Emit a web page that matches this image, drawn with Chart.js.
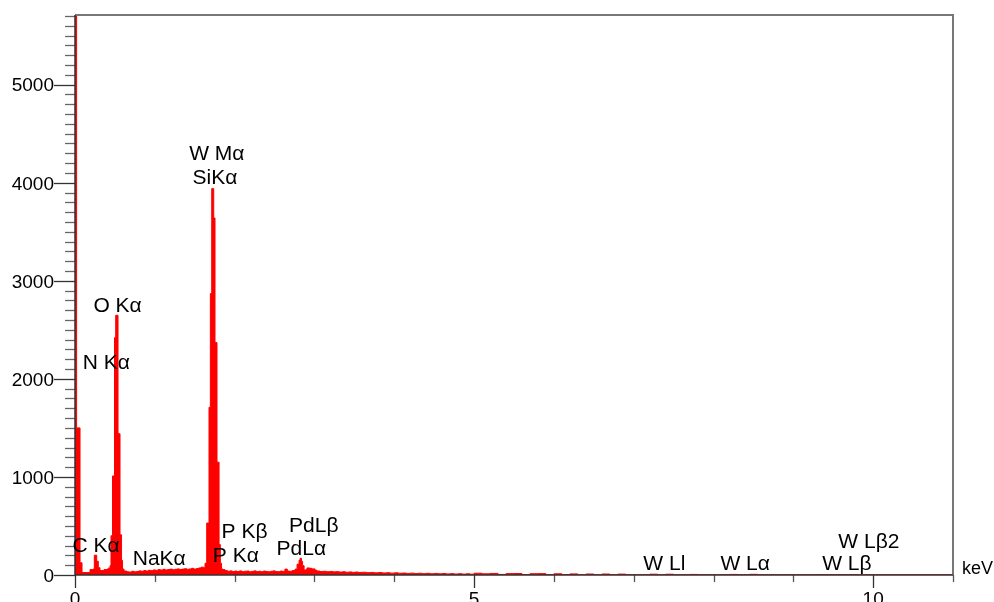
<!DOCTYPE html>
<html>
<head>
<meta charset="utf-8">
<script src="https://cdn.jsdelivr.net/npm/chart.js@4/dist/chart.umd.min.js"></script>
<style>
  body { margin: 0; background: #fff; }
  #wrap { width: 994px; height: 602px; }
</style>
</head>
<body>
<div id="wrap"><canvas id="spectrum" width="994" height="602"></canvas></div>
<script>
// channel start energies (keV) and counts
const energies = [
  0.00, 0.02, 0.063, 0.088, 0.188, 0.226, 0.242, 0.272, 0.292, 0.313,
  0.363, 0.414, 0.439, 0.451, 0.470, 0.495, 0.510, 0.539, 0.564, 0.583,
  0.595, 0.614, 0.65, 0.68, 0.71, 0.74, 0.77, 0.80, 0.83, 0.86,
  0.89, 0.92, 0.95, 0.98, 1.01, 1.04, 1.07, 1.10, 1.13, 1.16,
  1.19, 1.22, 1.25, 1.28, 1.31, 1.34, 1.37, 1.40, 1.43, 1.46,
  1.49, 1.52, 1.55, 1.58, 1.61, 1.629, 1.650, 1.679, 1.696, 1.713,
  1.738, 1.754, 1.779, 1.805, 1.821, 1.836, 1.855, 1.88, 1.91, 1.94,
  1.97, 2.00, 2.03, 2.06, 2.09, 2.12, 2.15, 2.18, 2.21, 2.24,
  2.27, 2.30, 2.33, 2.36, 2.39, 2.42, 2.45, 2.48, 2.51, 2.54,
  2.57, 2.60, 2.63, 2.66, 2.69, 2.72, 2.757, 2.782, 2.807, 2.820,
  2.838, 2.851, 2.870, 2.895, 2.907, 2.94, 2.97, 3.008, 3.033, 3.07,
  3.11, 3.15, 3.19, 3.23, 3.27, 3.31, 3.35, 3.39, 3.43, 3.47,
  3.51, 3.55, 3.60, 3.65, 3.70, 3.75, 3.80, 3.85, 3.90, 3.95,
  4.00, 4.05, 4.10, 4.15, 4.20, 4.25, 4.30, 4.35, 4.40, 4.45,
  4.50, 4.55, 4.60, 4.65, 4.70, 4.75, 4.80, 4.85, 4.90, 4.95,
  5.00, 5.10, 5.20, 5.30, 5.40, 5.50, 5.60, 5.70, 5.80, 5.90,
  6.00, 6.10, 6.20, 6.30, 6.40, 6.50, 6.60, 6.70, 6.80, 6.90,
  7.00, 7.20, 7.30, 7.40, 7.50, 7.70, 7.80, 8.00, 8.20, 8.30,
  8.45, 8.55, 8.80, 9.00, 9.30, 9.60, 9.80, 10.2, 10.6, 11.0
];
const counts = [
  9000, 1500, 125, 25, 55, 60, 202, 140, 75, 45,
  55, 70, 95, 400, 1010, 2420, 2648, 1440, 410, 150,
  60, 40, 32, 30, 38, 32, 36, 42, 38, 45,
  40, 48, 44, 52, 47, 55, 50, 58, 52, 56,
  60, 54, 58, 62, 56, 60, 64, 58, 62, 68,
  60, 66, 72, 80, 74, 120, 530, 1710, 2870, 3940,
  3640, 2370, 1150, 310, 120, 60, 55, 45, 38, 42,
  35, 40, 36, 42, 34, 38, 40, 33, 37, 42,
  35, 38, 34, 40, 36, 33, 38, 42, 36, 34,
  40, 37, 60, 40, 38, 45, 60, 110, 150, 170,
  140, 95, 50, 58, 72, 68, 62, 48, 40, 36,
  38, 34, 36, 32, 34, 30, 33, 28, 31, 27,
  30, 26, 28, 24, 26, 22, 25, 21, 23, 19,
  22, 18, 20, 16, 19, 15, 18, 14, 17, 13,
  16, 12, 15, 11, 14, 10, 13, 9, 12, 8,
  18, 12, 16, 6, 14, 15, 5, 13, 14, 4,
  12, 4, 11, 3, 10, 3, 10, 3, 9, 3,
  3, 8, 3, 8, 3, 6, 3, 3, 6, 3,
  7, 3, 3, 3, 4, 5, 3, 3, 3, 3
];

// peak labels: text, energy (keV), baseline height (counts)
const peakNames = ['W M\u03b1', 'SiK\u03b1', 'O K\u03b1', 'N K\u03b1', 'C K\u03b1', 'NaK\u03b1',
  'P K\u03b2', 'P K\u03b1', 'PdL\u03b2', 'PdL\u03b1', 'W Ll', 'W L\u03b1', 'W L\u03b2', 'W L\u03b22'];
const peakEnergies = [1.777, 1.754, 0.533, 0.392, 0.265, 1.055, 2.124, 2.015, 2.992, 2.836,
  7.383, 8.396, 9.670, 9.946];
const peakHeights = [4231, 3986, 2677, 2098, 233, 100, 380, 131, 441, 209, 49, 49, 49, 278];

const xTickLabels = [0, 5, 10];
const yTickLabels = [0, 1000, 2000, 3000, 4000, 5000];

const FAMILY = '"Liberation Sans", Arial, sans-serif';

const points = energies.map((e, i) => ({ x: e, y: counts[i] }));

const framePlugin = {
  id: 'frame',
  afterDatasetsDraw(chart) {
    const { ctx, chartArea: a, scales } = chart;
    const xs = scales.x, ys = scales.y;
    ctx.save();
    // top and right border
    ctx.strokeStyle = '#777';
    ctx.lineWidth = 2;
    ctx.beginPath();
    ctx.moveTo(a.left, a.top);
    ctx.lineTo(a.right, a.top);
    ctx.lineTo(a.right, a.bottom);
    ctx.stroke();
    // y ticks
    for (let v = 0; v <= 5700; v += 100) {
      const y = Math.round(ys.getPixelForValue(v)) + 0.5;
      const major = v % 1000 === 0;
      ctx.strokeStyle = major ? '#333' : '#666';
      ctx.lineWidth = 1.3;
      ctx.beginPath();
      ctx.moveTo(a.left - (major ? 21 : 10), y);
      ctx.lineTo(a.left, y);
      ctx.stroke();
    }
    // x ticks
    for (let v = 0; v <= 11; v++) {
      const x = Math.round(xs.getPixelForValue(v)) + 0.5;
      const major = xTickLabels.includes(v);
      ctx.strokeStyle = major ? '#333' : '#555';
      ctx.lineWidth = 1.3;
      ctx.beginPath();
      ctx.moveTo(x, a.bottom);
      ctx.lineTo(x, a.bottom + (major ? 13 : 7));
      ctx.stroke();
    }
    // axis lines
    ctx.strokeStyle = '#333';
    ctx.lineWidth = 1.5;
    ctx.beginPath();
    ctx.moveTo(a.left, a.top);
    ctx.lineTo(a.left, a.bottom);
    ctx.lineTo(a.right, a.bottom);
    ctx.stroke();
    // tick labels
    ctx.fillStyle = '#000';
    ctx.font = '19px ' + FAMILY;
    ctx.textBaseline = 'alphabetic';
    ctx.textAlign = 'right';
    yTickLabels.forEach((v) => {
      ctx.fillText(String(v), a.left - 21, ys.getPixelForValue(v) + 6.8);
    });
    ctx.textAlign = 'center';
    xTickLabels.forEach((v) => {
      ctx.fillText(String(v), xs.getPixelForValue(v), a.bottom + 30);
    });
    // peak labels
    ctx.font = '21px ' + FAMILY;
    peakNames.forEach((name, i) => {
      ctx.fillText(name, xs.getPixelForValue(peakEnergies[i]), ys.getPixelForValue(peakHeights[i]));
    });
    ctx.font = '18px ' + FAMILY;
    ctx.textAlign = 'left';
    ctx.fillText('keV', a.right + 9, a.bottom - 1);
    ctx.restore();
  }
};

new Chart(document.getElementById('spectrum'), {
  type: 'line',
  data: {
    datasets: [{
      data: points,
      stepped: 'before',
      fill: 'origin',
      borderColor: '#ff0000',
      backgroundColor: '#ff0000',
      borderWidth: 1,
      pointRadius: 0,
    }],
  },
  options: {
    responsive: false,
    animation: false,
    layout: { padding: { top: 15, right: 41, bottom: 0, left: 0 } },
    plugins: {
      legend: { display: false },
      tooltip: { enabled: false },
    },
    scales: {
      x: {
        type: 'linear',
        min: 0,
        max: 11,
        grid: { display: false },
        border: { display: false },
        ticks: { display: false },
        afterFit: (s) => { s.height = 27; },
      },
      y: {
        min: 0,
        max: 5710,
        grid: { display: false },
        border: { display: false },
        ticks: { display: false },
        afterFit: (s) => { s.width = 75; },
      },
    },
  },
  plugins: [framePlugin],
});
</script>
</body>
</html>
